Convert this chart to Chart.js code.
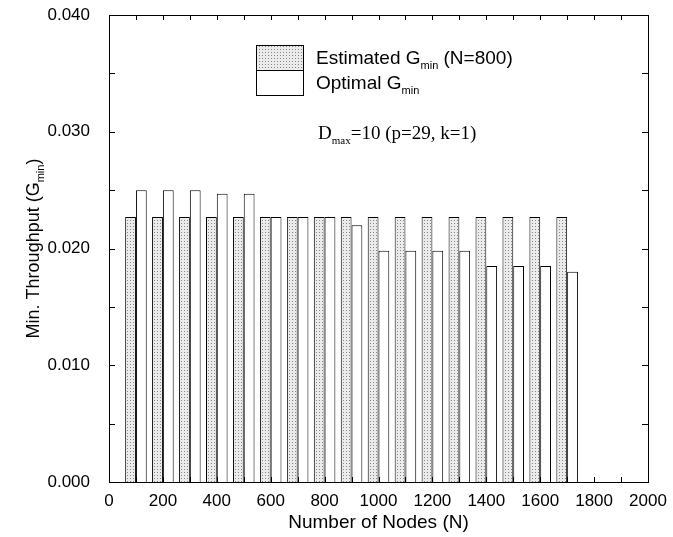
<!DOCTYPE html>
<html>
<head>
<meta charset="utf-8">
<script src="https://cdn.jsdelivr.net/npm/chart.js@4.4.1/dist/chart.umd.min.js"></script>
<style>
  html, body { margin: 0; padding: 0; background: #fff; }
  #wrap { width: 673px; height: 537px; position: relative; }
</style>
</head>
<body>
<div id="wrap"><canvas id="throughputChart" width="673" height="537"></canvas></div>
<script>
// Number of nodes (x positions of the bar groups)
const nodeCounts = [100, 200, 300, 400, 500, 600, 700, 800, 900, 1000, 1100, 1200, 1300, 1400, 1500, 1600, 1700];
// Estimated G_min (N=800)
const estimatedGmin = [0.0227, 0.0227, 0.0227, 0.0227, 0.0227, 0.0227, 0.0227, 0.0227, 0.0227,
    0.0227, 0.0227, 0.0227, 0.0227, 0.0227, 0.0227, 0.0227, 0.0227];
// Optimal G_min
const optimalGmin = [0.0250, 0.0250, 0.0250, 0.0247, 0.0247, 0.0227, 0.0227, 0.0227, 0.0220,
    0.0198, 0.0198, 0.0198, 0.0198, 0.0185, 0.0185, 0.0185, 0.0180];
// Axis ticks
const xTicks = [0, 200, 400, 600, 800, 1000, 1200, 1400, 1600, 1800, 2000];
const yTicks = [0.000, 0.010, 0.020, 0.030, 0.040];

const sansFont = '"Liberation Sans", Arial, Helvetica, sans-serif';
const serifFont = '"Liberation Serif", "Times New Roman", serif';

// Stippled fill for the estimated bars
function makeStipple() {
    const c = document.createElement('canvas');
    c.width = 3;
    c.height = 3;
    const g = c.getContext('2d');
    g.fillStyle = '#ebebeb';
    g.fillRect(0, 0, 3, 3);
    g.fillStyle = '#888888';
    g.fillRect(1, 1, 1, 1);
    return g.createPattern(c, 'repeat');
}

// Text with a subscript part, returns the x where it ended
function drawSub(ctx, x, y, main, sub, size, subSize, family, after) {
    ctx.font = `${size}px ${family}`;
    ctx.fillText(main, x, y);
    x += ctx.measureText(main).width;
    ctx.font = `${subSize}px ${family}`;
    ctx.fillText(sub, x, y + size * 0.25);
    x += ctx.measureText(sub).width;
    if (after) {
        ctx.font = `${size}px ${family}`;
        ctx.fillText(after, x, y);
        x += ctx.measureText(after).width;
    }
    return x;
}

// Frame, inward ticks, legend, annotation and y title
const decorations = {
    id: 'decorations',
    afterDraw(chart) {
        const ctx = chart.ctx;
        const area = chart.chartArea;
        const xs = chart.scales.x;
        const ys = chart.scales.y;
        ctx.save();
        ctx.strokeStyle = '#000';
        ctx.lineWidth = 1;
        ctx.strokeRect(area.left + 0.5, area.top + 0.5, area.right - area.left, area.bottom - area.top);

        ctx.beginPath();
        for (let v = 0; v <= 2000; v += 100) {
            const px = Math.round(xs.getPixelForValue(v)) + 0.5;
            ctx.moveTo(px, area.bottom);
            ctx.lineTo(px, area.bottom - 5);
            ctx.moveTo(px, area.top);
            ctx.lineTo(px, area.top + 5);
        }
        for (let i = 0; i <= 8; i++) {
            const py = Math.round(ys.getPixelForValue(i * 0.005)) + 0.5;
            ctx.moveTo(area.left, py);
            ctx.lineTo(area.left + 6, py);
            ctx.moveTo(area.right, py);
            ctx.lineTo(area.right - 6, py);
        }
        ctx.stroke();

        // Legend
        const lx = 256, ly = 45, lw = 47, lh = 25;
        ctx.fillStyle = chart.data.datasets[0].backgroundColor;
        ctx.fillRect(lx, ly, lw, lh);
        ctx.fillStyle = '#fff';
        ctx.fillRect(lx, ly + lh, lw, lh);
        ctx.strokeRect(lx + 0.5, ly + 0.5, lw, lh);
        ctx.strokeRect(lx + 0.5, ly + lh + 0.5, lw, lh);

        ctx.fillStyle = '#000';
        ctx.textBaseline = 'alphabetic';
        ctx.textAlign = 'left';
        drawSub(ctx, 316, 64, 'Estimated G', 'min', 19, 11, sansFont, ' (N=800)');
        drawSub(ctx, 316, 89, 'Optimal G', 'min', 19, 11, sansFont);

        // Annotation
        drawSub(ctx, 318, 139, 'D', 'max', 19, 11, serifFont, '=10 (p=29, k=1)');

        // Y axis title
        ctx.translate(39, (area.top + area.bottom) / 2);
        ctx.rotate(-Math.PI / 2);
        ctx.font = `18px ${sansFont}`;
        const t1 = 'Min. Throughput (G';
        const w = ctx.measureText(t1).width;
        const w3 = ctx.measureText(')').width;
        ctx.font = `11px ${sansFont}`;
        const w2 = ctx.measureText('min').width;
        drawSub(ctx, -(w + w2 + w3) / 2, 0, t1, 'min', 18, 11, sansFont, ')');
        ctx.restore();
    }
};

const ctx = document.getElementById('throughputChart').getContext('2d');
const stipple = makeStipple();

new Chart(ctx, {
    type: 'bar',
    data: {
        datasets: [{
            label: 'Estimated Gmin (N=800)',
            data: nodeCounts.map((n, i) => ({ x: n, y: estimatedGmin[i] })),
            backgroundColor: stipple,
            borderColor: '#000',
            borderWidth: 1,
            categoryPercentage: 0.8,
            barPercentage: 1.0
        }, {
            label: 'Optimal Gmin',
            data: nodeCounts.map((n, i) => ({ x: n, y: optimalGmin[i] })),
            backgroundColor: '#fff',
            borderColor: '#000',
            borderWidth: 1,
            categoryPercentage: 0.8,
            barPercentage: 1.0
        }]
    },
    options: {
        responsive: false,
        animation: false,
        devicePixelRatio: 1,
        layout: { padding: { left: 0, top: 15, right: 25, bottom: 0 } },
        plugins: {
            legend: { display: false },
            tooltip: { enabled: false }
        },
        scales: {
            x: {
                type: 'linear',
                min: 0,
                max: 2000,
                offset: false,
                grid: { display: false, drawTicks: false, offset: false },
                border: { display: false },
                afterBuildTicks: scale => { scale.ticks = xTicks.map(v => ({ value: v })); },
                afterFit: scale => {
                    scale.height = 55;
                    scale.paddingLeft = 0;
                    scale.paddingRight = 0;
                },
                ticks: {
                    color: '#000',
                    padding: 9,
                    maxRotation: 0,
                    autoSkip: false,
                    font: { family: sansFont, size: 17 },
                    callback: v => String(v)
                },
                title: {
                    display: true,
                    text: 'Number of Nodes (N)',
                    color: '#000',
                    font: { family: sansFont, size: 19 },
                    padding: { top: 0, bottom: 3 }
                }
            },
            y: {
                min: 0,
                max: 0.04,
                grid: { display: false, drawTicks: false },
                border: { display: false },
                afterBuildTicks: scale => { scale.ticks = yTicks.map(v => ({ value: v })); },
                afterFit: scale => {
                    scale.width = 109;
                    scale.paddingTop = 0;
                    scale.paddingBottom = 0;
                },
                ticks: {
                    color: '#000',
                    padding: 19,
                    font: { family: sansFont, size: 17 },
                    callback: v => v.toFixed(3)
                }
            }
        }
    },
    plugins: [decorations]
});
</script>
</body>
</html>
